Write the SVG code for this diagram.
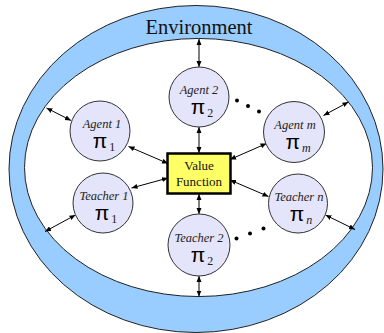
<svg xmlns="http://www.w3.org/2000/svg" width="384" height="333" viewBox="0 0 384 333">
<defs>
<marker id="ah" markerUnits="userSpaceOnUse" markerWidth="7" markerHeight="6" refX="6" refY="3" orient="auto-start-reverse">
<path d="M0,0.5 L6,3 L0,5.5 z" fill="#000"/>
</marker>
<style>
.env{fill:#99ccff;stroke:#222;stroke-width:1;fill-rule:evenodd}
.node{fill:#e4e4fa;stroke:#333;stroke-width:1}
.serif{font-family:"Liberation Serif","Times New Roman","DejaVu Serif",serif;fill:#111}
.title{font-size:20.5px;text-anchor:middle}
.vf{font-size:13px;text-anchor:middle}
.name{font-family:"Liberation Serif","Times New Roman","DejaVu Serif",serif;font-style:italic;font-size:12.5px;fill:#222;text-anchor:middle}
.pi{font-family:"Liberation Sans",Arial,sans-serif;font-size:21px;fill:#000}
.sub{font-family:"Liberation Serif","Times New Roman",serif;font-size:12px;fill:#222}
.subi{font-family:"Liberation Serif","Times New Roman",serif;font-style:italic;font-size:12px;fill:#222}
.conn line{stroke:#000;stroke-width:1;marker-start:url(#ah);marker-end:url(#ah)}
.dot{fill:#000}
</style>
</defs>
<rect width="384" height="333" fill="#fff"/>
<g id="environment">
<path class="env" d="M9,169 a187,163.5 0 1,0 374,0 a187,163.5 0 1,0 -374,0 z M24.5,167.5 a174,129 0 1,0 348,0 a174,129 0 1,0 -348,0 z"/>
<text class="serif title" x="199" y="34">Environment</text>
</g>
<g id="connectors" class="conn">
<line x1="199" y1="39" x2="199" y2="67"/>
<line x1="199" y1="127" x2="199" y2="153"/>
<line x1="199" y1="194" x2="199" y2="214"/>
<line x1="199" y1="276" x2="199" y2="296.5"/>
<line x1="46.5" y1="108" x2="71" y2="120.5"/>
<line x1="128.5" y1="146.5" x2="168" y2="163.5"/>
<line x1="131.5" y1="188" x2="168" y2="178"/>
<line x1="45" y1="231.5" x2="75.5" y2="215"/>
<line x1="348.5" y1="102" x2="323.5" y2="115.5"/>
<line x1="266.5" y1="143.5" x2="230" y2="159.5"/>
<line x1="268.5" y1="196.5" x2="230" y2="180"/>
<line x1="325.5" y1="215" x2="355" y2="229.5"/>
</g>
<g id="value-function">
<rect x="167.5" y="153.5" width="63" height="40" fill="#ffff66" stroke="#000" stroke-width="2.5"/>
<text class="serif vf" x="199" y="169.5">Value</text>
<text class="serif vf" x="199" y="186">Function</text>
</g>
<g id="agent-2">
<circle class="node" cx="199" cy="97" r="30"/>
<text class="name" x="199" y="94">Agent 2</text>
<text x="202" y="114" text-anchor="middle"><tspan class="pi">π</tspan><tspan class="sub" dx="2" dy="3">2</tspan></text>
</g>
<g id="agent-1">
<circle class="node" cx="100" cy="131" r="30"/>
<text class="name" x="102" y="128">Agent 1</text>
<text x="104" y="148" text-anchor="middle"><tspan class="pi">π</tspan><tspan class="sub" dx="2" dy="3">1</tspan></text>
</g>
<g id="agent-m">
<circle class="node" cx="294" cy="132" r="30.5"/>
<text class="name" x="295" y="129">Agent m</text>
<text x="298" y="149" text-anchor="middle"><tspan class="pi">π</tspan><tspan class="subi" dx="2" dy="3">m</tspan></text>
</g>
<g id="teacher-1">
<circle class="node" cx="103" cy="203" r="30"/>
<text class="name" x="104" y="200">Teacher 1</text>
<text x="106" y="220" text-anchor="middle"><tspan class="pi">π</tspan><tspan class="sub" dx="2" dy="3">1</tspan></text>
</g>
<g id="teacher-n">
<circle class="node" cx="298" cy="203.5" r="29.5"/>
<text class="name" x="299" y="200.5">Teacher n</text>
<text x="301" y="220.5" text-anchor="middle"><tspan class="pi">π</tspan><tspan class="subi" dx="2" dy="3">n</tspan></text>
</g>
<g id="teacher-2">
<circle class="node" cx="199" cy="245" r="31"/>
<text class="name" x="199" y="242">Teacher 2</text>
<text x="202" y="262" text-anchor="middle"><tspan class="pi">π</tspan><tspan class="sub" dx="2" dy="3">2</tspan></text>
</g>
<g id="ellipsis-dots">
<circle class="dot" cx="237" cy="100.5" r="2"/>
<circle class="dot" cx="248" cy="106" r="2"/>
<circle class="dot" cx="259" cy="111.5" r="2"/>
<circle class="dot" cx="236.5" cy="238.5" r="2"/>
<circle class="dot" cx="250" cy="233.5" r="2"/>
<circle class="dot" cx="263.5" cy="228.5" r="2"/>
</g>
</svg>
